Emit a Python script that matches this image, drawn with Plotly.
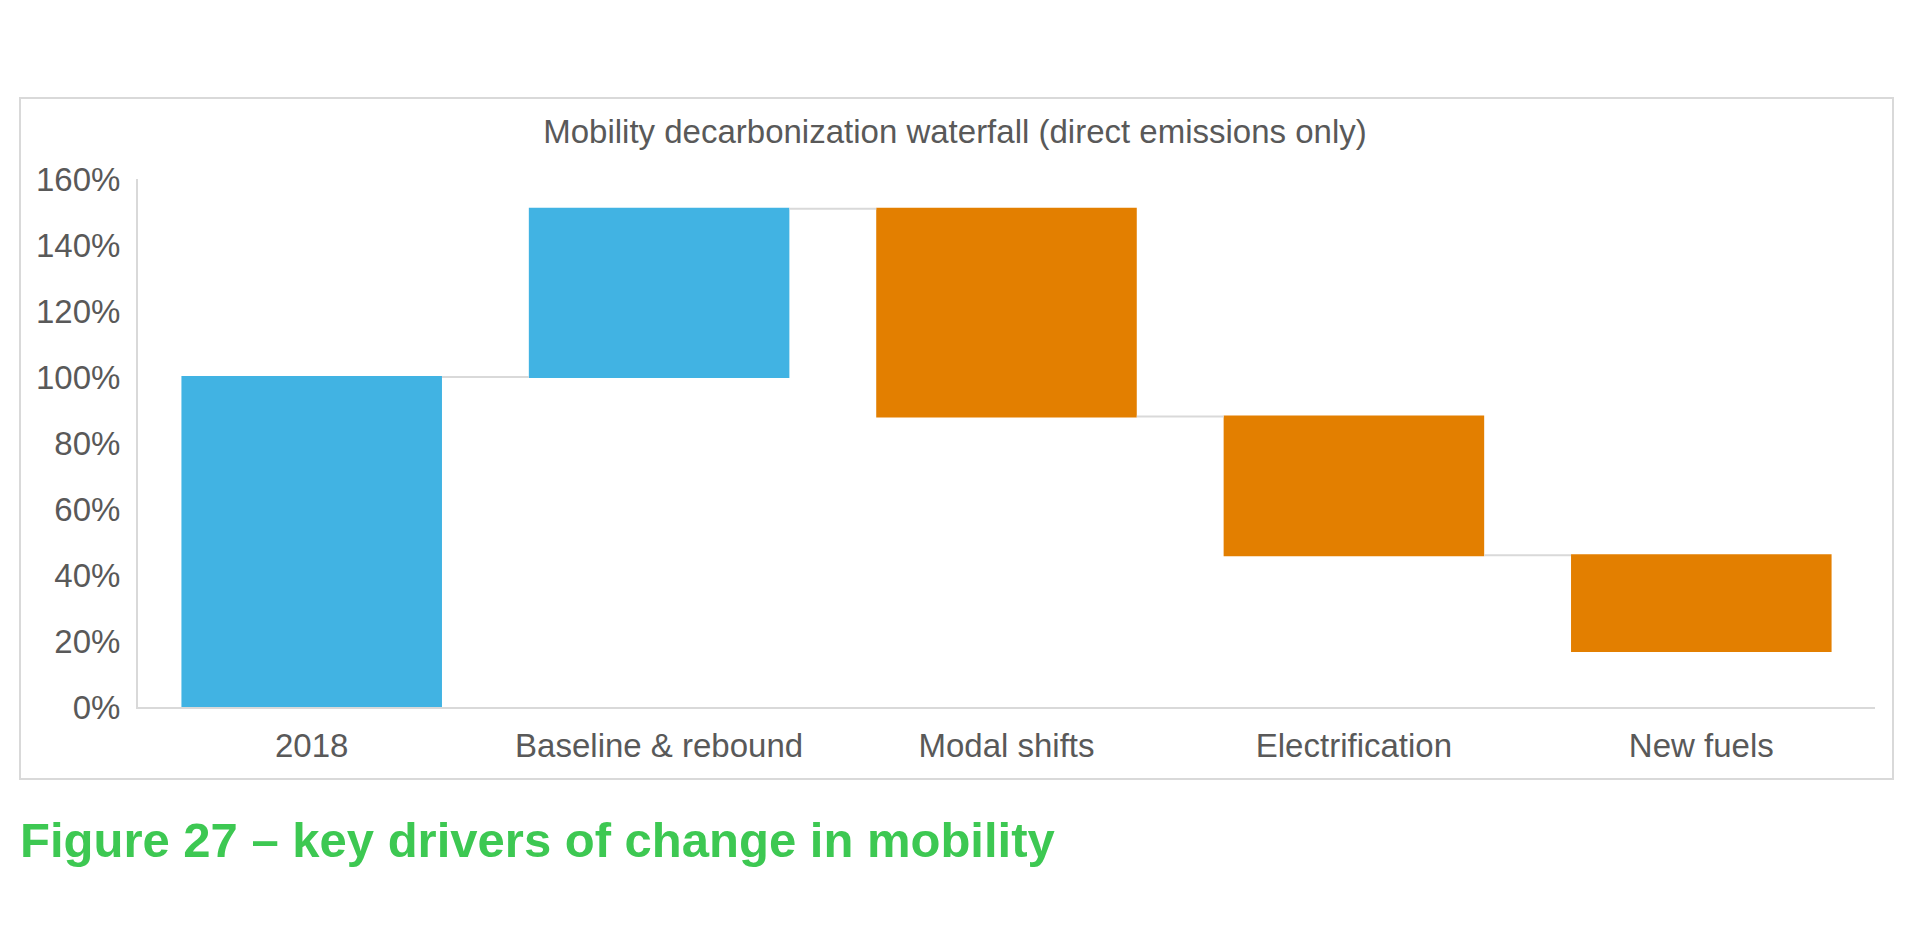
import plotly.graph_objects as go

# Waterfall data (% of 2018 direct emissions)
categories = ["2018", "Baseline & rebound", "Modal shifts", "Electrification", "New fuels"]
measures = ["absolute", "relative", "relative", "relative", "relative"]
changes = [100, 51, -63, -42, -29]
y_ticks = [0, 20, 40, 60, 80, 100, 120, 140, 160]
y_tick_labels = [f"{v}%" for v in y_ticks]

BLUE = "#41B3E3"
ORANGE = "#E37F00"
GREY_TXT = "#595959"
GREY_LINE = "#D9D9D9"
FONT = "Arial, Liberation Sans, sans-serif"

fig = go.Figure(go.Waterfall(
    x=categories,
    y=changes,
    measure=measures,
    totals=dict(marker=dict(color=BLUE)),
    increasing=dict(marker=dict(color=BLUE)),
    decreasing=dict(marker=dict(color=ORANGE)),
    connector=dict(line=dict(color=GREY_LINE, width=2), mode="between"),
    textinfo="none",
    showlegend=False,
))

# page body has an 8px margin, so the figure is 8px smaller and shifted
W, H = 1912, 944
L, R, T, B = 130, 45, 171, 245
pw, ph = W - L - R, H - T - B

def px_x(x):
    return (x - L) / pw

def px_y(y):
    return (H - B - y) / ph

fig.update_layout(
    width=W, height=H,
    margin=dict(l=L, r=R, t=T, b=B),
    paper_bgcolor="white",
    plot_bgcolor="white",
    waterfallgap=0.25,
    font=dict(family=FONT, size=33, color=GREY_TXT),
    title=dict(
        text="Mobility decarbonization waterfall (direct emissions only)",
        font=dict(family=FONT, size=33, color=GREY_TXT),
        x=px_x(947), xref="paper", xanchor="center",
        y=1 - 123 / H, yref="container", yanchor="middle",
    ),
    shapes=[dict(
        type="rect", xref="paper", yref="paper",
        x0=px_x(12), x1=px_x(1885), y0=px_y(771), y1=px_y(90),
        line=dict(color=GREY_LINE, width=2), layer="below",
    )],
    annotations=[dict(
        text="<b>Figure 27 – key drivers of change in mobility</b>",
        xref="paper", yref="paper",
        x=px_x(10), y=px_y(832), xanchor="left", yanchor="middle",
        showarrow=False,
        font=dict(family=FONT, size=49, color="#3DC852"),
    )],
)

fig.update_yaxes(
    range=[0, 160], tickvals=y_ticks, ticktext=y_tick_labels,
    showgrid=False, zeroline=False,
    showline=True, linecolor=GREY_LINE, linewidth=2,
    ticks="", ticklabelstandoff=9,
    tickfont=dict(size=33, color=GREY_TXT),
)
fig.update_xaxes(
    showgrid=False,
    showline=True, linecolor=GREY_LINE, linewidth=2,
    ticks="", ticklabelstandoff=8,
    tickfont=dict(size=33, color=GREY_TXT),
)

fig.write_html("out.html")
